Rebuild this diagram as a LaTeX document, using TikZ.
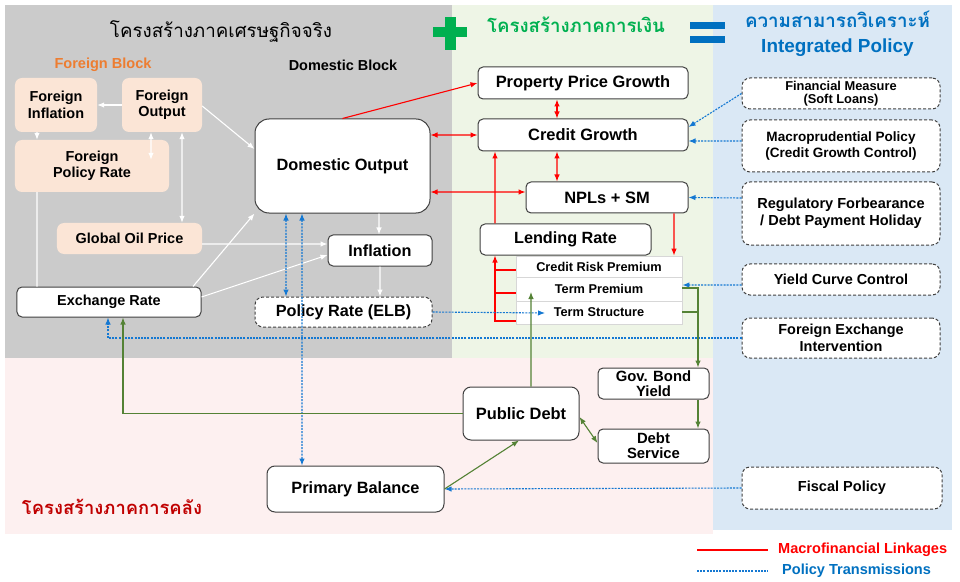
\documentclass[tikz,border=0pt]{standalone}
\usepackage{fontspec}
\setmainfont{Liberation Sans}
\newfontfamily\thaifont[Script=Thai]{Loma}
\usepackage{graphicx}
\usetikzlibrary{arrows.meta,calc}
\definecolor{bggray}{RGB}{203,203,203}
\definecolor{bggreen}{RGB}{238,245,230}
\definecolor{bgblue}{RGB}{218,232,245}
\definecolor{bgpink}{RGB}{253,240,240}
\definecolor{peach}{RGB}{251,229,214}
\definecolor{bordr}{RGB}{64,64,64}
\definecolor{polblue}{RGB}{0,112,192}
\definecolor{arrblue}{RGB}{20,120,210}
\definecolor{fgreen}{RGB}{84,130,53}
\definecolor{tgreen}{RGB}{0,176,80}
\definecolor{tred}{RGB}{192,0,0}
\definecolor{orng}{RGB}{237,125,49}
\definecolor{cellgray}{RGB}{215,215,215}
\newcommand\myfs[2]{\fontsize{#1}{#2}\selectfont\bfseries}
\tikzset{
  base/.style={align=center, inner sep=0pt},
  sz/.style 2 args={minimum width=#1bp, minimum height=#2bp},
  peachbox/.style={base, fill=peach, rounded corners=7bp},
  whitebox/.style={base, draw=bordr, line width=1bp, fill=white, rounded corners=5bp},
  dashbox/.style={base, draw=bordr, line width=1bp, fill=white, rounded corners=8bp, dash pattern=on 3bp off 2bp},
  cellbox/.style={base, draw=cellgray, line width=0.8bp, fill=white},
  tip/.style={-{Latex[length=7bp,width=5.5bp]}},
  dtip/.style={{Latex[length=7bp,width=5.5bp]}-{Latex[length=7bp,width=5.5bp]}},
  wline/.style={white, line width=1.1bp},
  rline/.style={red, line width=1.1bp},
  bline/.style={arrblue, line width=1.1bp, dash pattern=on 2bp off 1.2bp},
  gline/.style={fgreen, line width=1.1bp},
}
\begin{document}
\begin{tikzpicture}[x=1bp,y=-1bp]
\useasboundingbox (0,0) rectangle (960,582);
% backgrounds
\fill[bggray] (5,5) rectangle (452,358);
\fill[bggreen] (452,5) rectangle (713,358);
\fill[bgblue] (713,5) rectangle (952,530);
\fill[bgpink] (5,358) rectangle (713,534);
% plus and equal signs
\fill[tgreen] (433,27) rectangle (467,37.5);
\fill[tgreen] (445,17) rectangle (455.5,50);
\fill[polblue] (690,21.7) rectangle (725,29);
\fill[polblue] (690,36) rectangle (725,43);
% titles
\node[base] (t1) at (221,31) {\resizebox{222bp}{!}{\thaifont โครงสร้างภาคเศรษฐกิจจริง}};
\node[base, text=tgreen] (t2) at (576,25) {\resizebox{178bp}{!}{\thaifont\bfseries โครงสร้างภาคการเงิน}};
\node[base, text=polblue] (t3) at (837.5,19) {\resizebox{185bp}{!}{\thaifont\bfseries ความสามารถวิเคราะห์}};
\node[base, text=polblue, font=\myfs{19}{21}] (t4) at (837.5,48) {Integrated Policy};
\node[base, text=tred] (t5) at (112,507) {\resizebox{180bp}{!}{\thaifont\bfseries โครงสร้างภาคการคลัง}};
\node[base, text=orng, font=\myfs{14.6}{16}] (fb) at (103,65) {Foreign Block};
\node[base, font=\myfs{14.5}{16}] (db) at (343,65) {Domestic Block};
% foreign block
\node[peachbox, sz={82}{54}, font=\myfs{14.5}{16.5}] (FI) at (56,105) {Foreign\\Inflation};
\node[peachbox, sz={80}{54}, font=\myfs{14.5}{16.5}] (FO) at (162,105) {Foreign\\Output};
\node[peachbox, sz={154}{52}, font=\myfs{14.5}{16.5}] (FPR) at (92,166) {Foreign\\Policy Rate};
\node[peachbox, sz={145}{31}, font=\myfs{14.5}{16}] (Oil) at (129.5,238.5) {Global Oil Price};
% domestic block
\node[whitebox, sz={184}{30}, font=\myfs{14.5}{16}] (ER) at (109,302) {Exchange Rate};
\node[whitebox, sz={175}{94}, rounded corners=14bp, font=\myfs{16.4}{18}] (DO) at (342.5,166) {Domestic Output};
\node[whitebox, sz={104}{31}, font=\myfs{16.3}{18}] (Inf) at (380,250.5) {Inflation};
\node[dashbox, sz={177}{30}, font=\myfs{16.3}{18}] (PR) at (343.5,312) {Policy Rate (ELB)};
% financial block
\node[whitebox, sz={210}{32}, font=\myfs{16.5}{18}] (PPG) at (583,83) {Property Price Growth};
\node[whitebox, sz={210}{32}, font=\myfs{16.5}{18}] (CG) at (583,135) {Credit Growth};
\node[whitebox, sz={162}{31}, font=\myfs{16.5}{18}] (NPL) at (607,197.5) {NPLs + SM};
\node[whitebox, sz={171}{31}, font=\myfs{16.3}{18}] (LR) at (565.5,239.5) {Lending Rate};
\node[cellbox, sz={166}{21}, font=\myfs{12.8}{14}] (CRP) at (599,266.5) {Credit Risk Premium};
\node[cellbox, sz={166}{24}, font=\myfs{12.8}{14}] (TP) at (599,289) {Term Premium};
\node[cellbox, sz={166}{23}, font=\myfs{12.8}{14}] (TS) at (599,312.5) {Term Structure};
% policy column
\node[dashbox, sz={198}{31}, font=\myfs{12.9}{12.5}] (FM) at (841,93.5) {Financial Measure\\(Soft Loans)};
\node[dashbox, sz={198}{52}, font=\myfs{13.6}{16.7}] (MP) at (841,146) {Macroprudential Policy\\(Credit Growth Control)};
\node[dashbox, sz={198}{63}, font=\myfs{14.6}{16.7}] (RF) at (841,213.5) {Regulatory Forbearance\\/ Debt Payment Holiday};
\node[dashbox, sz={198}{31}, font=\myfs{14.5}{16}] (YCC) at (841,279.5) {Yield Curve Control};
\node[dashbox, sz={198}{40}, font=\myfs{14.5}{16.7}] (FXI) at (841,338) {Foreign Exchange\\Intervention};
\node[dashbox, sz={200}{42}, font=\myfs{14.6}{16}] (FP) at (842,488) {Fiscal Policy};
% fiscal block
\node[whitebox, sz={111}{31}, font=\myfs{14.9}{15}] (GBY) at (653.5,383.5) {Gov. Bond\\Yield};
\node[whitebox, sz={111}{34}, font=\myfs{14.9}{15}] (DS) at (653.5,446) {Debt\\Service};
\node[whitebox, sz={116}{53}, rounded corners=8bp, font=\myfs{16.5}{18}] (PD) at (521,413.5) {Public Debt};
\node[whitebox, sz={177}{46}, rounded corners=8bp, font=\myfs{16.4}{18}] (PB) at (355.5,489) {Primary Balance};
% white connectors
\draw[wline, tip] (FO.west) -- (FI.east);
\draw[wline, tip] ([xshift=-19bp]FI.south) -- ([xshift=-55bp]FPR.north);
\draw[wline, dtip] ([xshift=-11bp]FO.south) -- ([xshift=59bp,yshift=-20bp]FPR.north);
\draw[wline, tip] ([yshift=-1bp]FO.east) -- ([yshift=17bp]DO.west);
\draw[wline, dtip] ([xshift=20bp]FO.south) -- ([xshift=52.5bp]Oil.north);
\draw[wline] ([xshift=-55bp]FPR.south) -- ([xshift=-72bp]ER.north);
\draw[wline, tip] ([yshift=-5.5bp]Oil.east) -- ([yshift=6.5bp]Inf.west);
\draw[wline, tip] ([yshift=5bp]ER.east) -- ([yshift=-4.5bp]Inf.west);
\draw[wline, tip] ([xshift=84bp]ER.north) -- (DO.south west);
\draw[wline, tip] ([xshift=36.5bp]DO.south) -- ([xshift=-1bp]Inf.north);
\draw[wline, tip] (Inf.south) -- ([xshift=36.5bp]PR.north);
% red connectors
\draw[rline, tip] (DO.north) -- (PPG.west);
\draw[rline, dtip] ([xshift=-26bp]PPG.south) -- ([xshift=-26bp]CG.north);
\draw[rline, dtip] ([yshift=31bp]DO.east) -- (CG.west);
\draw[rline, dtip] ([xshift=-26bp]CG.south) -- ([xshift=-50bp]NPL.north);
\draw[rline, dtip] ([yshift=-26bp]DO.east) -- ([yshift=5.5bp]NPL.west);
\draw[rline, tip] ([xshift=-70.5bp]LR.north) -- ([xshift=-88bp]CG.south);
\draw[rline, tip] ([xshift=67bp]NPL.south) -- ([xshift=75bp]CRP.north);
\draw[rline, tip] ([yshift=-8.5bp]TS.west) -| ([xshift=-70.5bp]LR.south);
\draw[rline] ([yshift=-3.5bp]CRP.west) -- ++(-21,0);
\draw[rline] ([yshift=-4bp]TP.west) -- ++(-21,0);
% blue policy connectors
\draw[bline, dtip] ([xshift=-56.5bp]DO.south) -- ([xshift=-57.5bp]PR.north);
\draw[bline, dtip] ([xshift=-40.5bp]DO.south) -- ([xshift=-53.5bp]PB.north);
\draw[bline, tip] (PR.east) -- ([xshift=-54bp,yshift=-0.5bp]TS.center);
\draw[bline, tip] (FXI.west) -| ([xshift=-1bp]ER.south);
\draw[bline, tip] (FM.west) -- ([yshift=8bp]CG.east);
\draw[bline, tip] ([yshift=5bp]MP.west) -- ([yshift=-6bp]CG.east);
\draw[bline, tip] ([yshift=15.5bp]RF.west) -- (NPL.east);
\draw[bline, tip] ([yshift=-5.5bp]YCC.west) -- ([yshift=4bp]TP.east);
\draw[bline, tip] (FP.west) -- (PB.east);
% green fiscal connectors
\draw[gline, tip] ([xshift=10bp]PD.north) -- ([xshift=-68bp,yshift=-3bp]TP.center);
\draw[gline, tip] (PD.west) -| ([xshift=14bp]ER.south);
\draw[gline, tip] ([yshift=1bp]TP.east) -| ([xshift=44.5bp]GBY.north);
\draw[gline] ([yshift=0.5bp]TS.east) -- ++(16,0);
\draw[gline, tip] ([xshift=44.5bp]GBY.south) -- ([xshift=44.5bp]DS.north);
\draw[gline, dtip] ([yshift=-3.5bp]PD.east) -- ([yshift=3bp]DS.west);
\draw[gline, tip] (PB.east) -- ([xshift=-2bp]PD.south);
% legend
\coordinate (l1a) at (697,550); \coordinate (l1b) at (768,550);
\coordinate (l2a) at (697,571); \coordinate (l2b) at (768,571);
\draw[rline] (l1a) -- (l1b);
\draw[bline] (l2a) -- (l2b);
\node[base, anchor=west, text=red, font=\myfs{14.6}{16}] (lg1) at (778,550) {Macrofinancial Linkages};
\node[base, anchor=west, text=polblue, font=\myfs{14.6}{16}] (lg2) at (782,571) {Policy Transmissions};
\end{tikzpicture}
\end{document}
